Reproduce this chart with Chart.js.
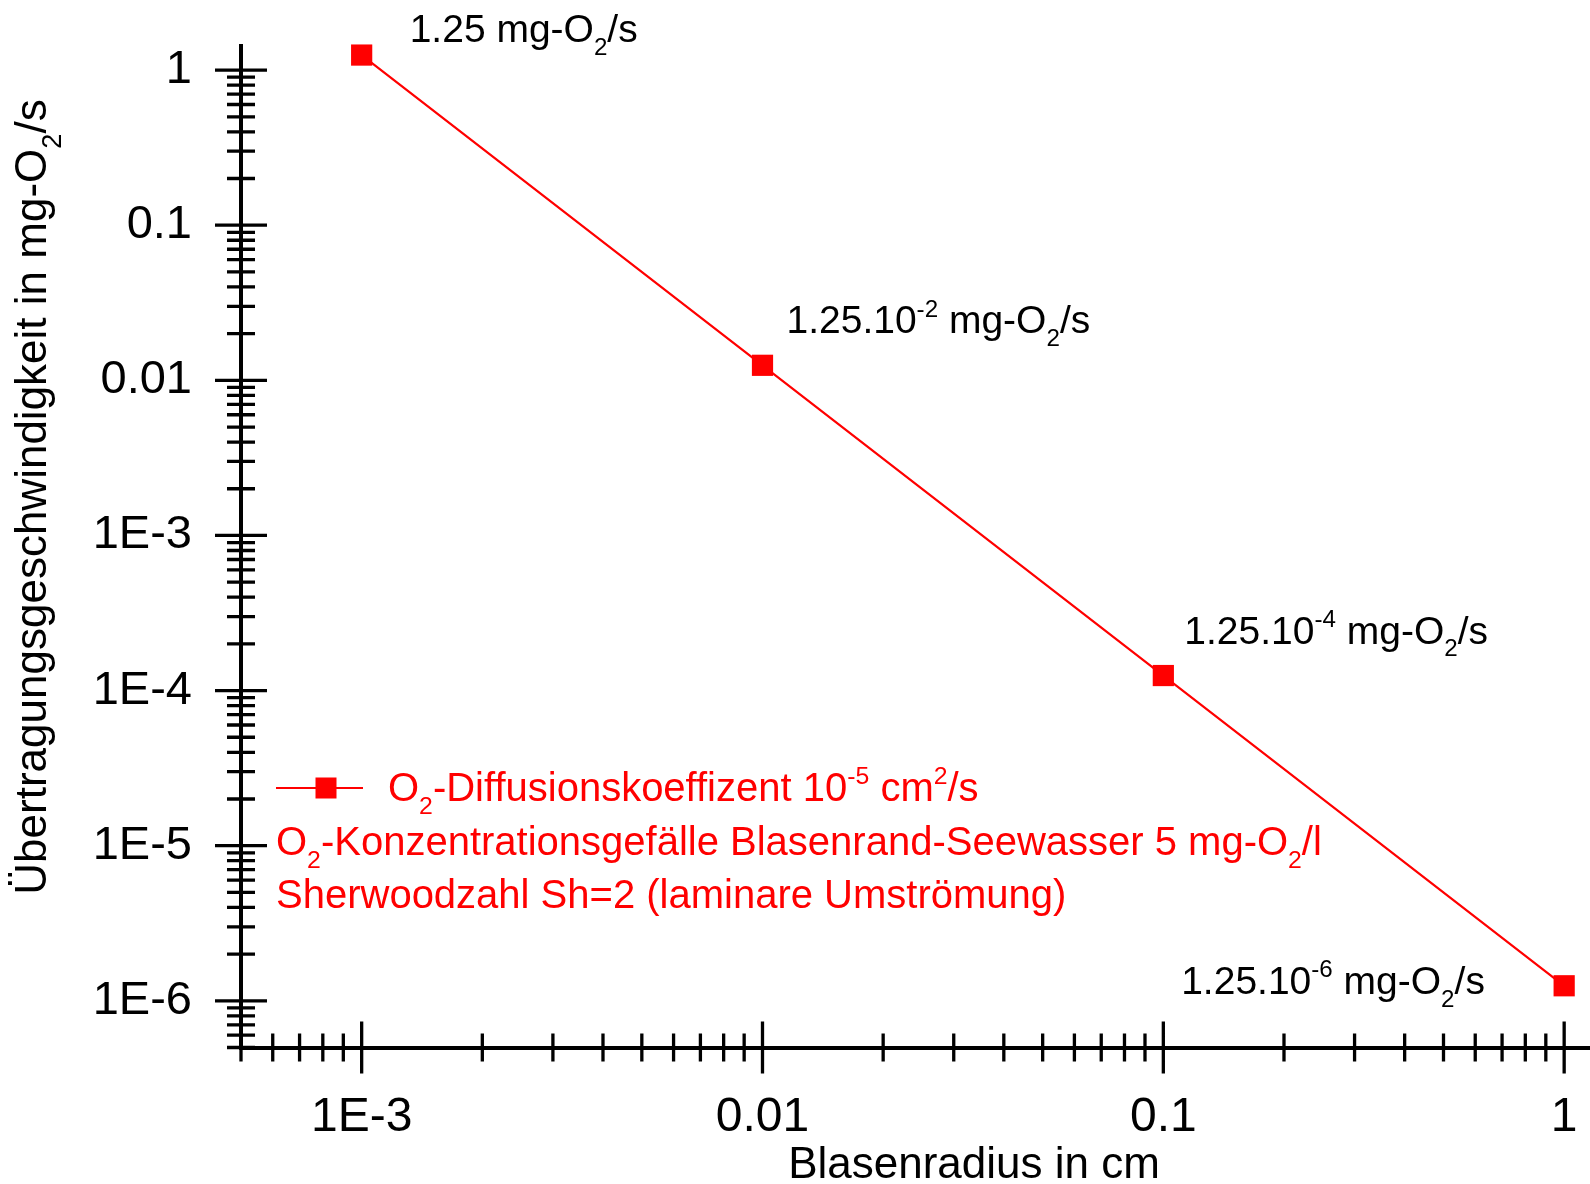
<!DOCTYPE html>
<html>
<head>
<meta charset="utf-8">
<script src="https://cdn.jsdelivr.net/npm/chart.js@4.4.1/dist/chart.umd.min.js"></script>
<style>
  html, body { margin: 0; padding: 0; background: #fff; overflow: hidden; }
  canvas { display: block; }
</style>
</head>
<body>
<canvas id="chart" width="1590" height="1184"></canvas>
<script>
// data
const radiusCm = [0.001, 0.01, 0.1, 1];
const rateMgO2s = [1.25, 0.0125, 1.25e-4, 1.25e-6];
const pointLabels = [
  "1.25 mg-O_{2}/s",
  "1.25.10^{-2} mg-O_{2}/s",
  "1.25.10^{-4} mg-O_{2}/s",
  "1.25.10^{-6} mg-O_{2}/s",
];
const legendLines = [
  "O_{2}-Diffusionskoeffizent 10^{-5} cm^{2}/s",
  "O_{2}-Konzentrationsgefälle Blasenrand-Seewasser 5 mg-O_{2}/l",
  "Sherwoodzahl Sh=2 (laminare Umströmung)",
];
const xMajorTicks = [0.001, 0.01, 0.1, 1];
const xTickLabels = ["1E-3", "0.01", "0.1", "1"];
const yMajorTicks = [1, 0.1, 0.01, 1e-3, 1e-4, 1e-5, 1e-6];
const yTickLabels = ["1", "0.1", "0.01", "1E-3", "1E-4", "1E-5", "1E-6"];
const xTitle = "Blasenradius in cm";
const yTitle = "Übertragungsgeschwindigkeit in mg-O_{2}/s";

const RED = "#ff0000";
const FONT = '"Liberation Sans", Arial, sans-serif';

// label placement (pixel offset of text start/baseline from its point)
const labelOffsets = [[48, -13], [24, -32], [21, -32], [-383, 8]];

function logTicks(min, max, majors) {
  const out = [];
  const lo = Math.floor(Math.log10(min));
  const hi = Math.ceil(Math.log10(max));
  for (let e = lo; e <= hi; e++) {
    for (let m = 1; m <= 9; m++) {
      const v = m * Math.pow(10, e);
      if (v < min * 0.999 || v > max * 1.001) continue;
      const major = majors.some((t) => Math.abs(Math.log10(t) - Math.log10(v)) < 1e-6);
      out.push({ value: v, major: major });
    }
  }
  return out;
}

function labelFor(value, majors, labels) {
  const i = majors.findIndex((t) => Math.abs(Math.log10(t) - Math.log10(value)) < 1e-6);
  return i >= 0 ? labels[i] : "";
}

function parseRich(str) {
  const parts = [];
  const re = /(\^\{[^}]*\}|_\{[^}]*\})/g;
  let last = 0, m;
  while ((m = re.exec(str))) {
    if (m.index > last) parts.push({ t: str.slice(last, m.index), mode: "" });
    parts.push({ t: m[0].slice(2, -1), mode: m[0][0] === "^" ? "sup" : "sub" });
    last = m.index + m[0].length;
  }
  if (last < str.length) parts.push({ t: str.slice(last), mode: "" });
  return parts;
}

function richWidth(ctx, str, size) {
  let w = 0;
  parseRich(str).forEach((p) => {
    ctx.font = (p.mode ? size * 0.62 : size) + "px " + FONT;
    w += ctx.measureText(p.t).width;
  });
  return w;
}

function drawRich(ctx, str, x, y, size, color, align) {
  if (align === "center") x -= richWidth(ctx, str, size) / 2;
  ctx.fillStyle = color;
  ctx.textBaseline = "alphabetic";
  ctx.textAlign = "left";
  parseRich(str).forEach((p) => {
    const s = p.mode ? size * 0.62 : size;
    const dy = p.mode === "sup" ? -0.42 * size : p.mode === "sub" ? 0.33 * size : 0;
    ctx.font = s + "px " + FONT;
    ctx.fillText(p.t, x, y + dy);
    x += ctx.measureText(p.t).width;
  });
}

// ticks crossing the axis lines, longer for decades
const crossTicks = {
  id: "crossTicks",
  afterDraw(chart) {
    const ctx = chart.ctx;
    const xs = chart.scales.x, ys = chart.scales.y;
    const ax = chart.chartArea.left, ay = chart.chartArea.bottom;
    ctx.save();
    ctx.strokeStyle = "#000";
    ctx.lineWidth = 3.3;
    ctx.beginPath();
    xs.ticks.forEach((t) => {
      const px = xs.getPixelForValue(t.value);
      const len = t.major ? 26 : 14;
      ctx.moveTo(px, ay - len);
      ctx.lineTo(px, ay + len);
    });
    ys.ticks.forEach((t) => {
      const py = ys.getPixelForValue(t.value);
      const len = t.major ? 26 : 14;
      ctx.moveTo(ax - len, py);
      ctx.lineTo(ax + len, py);
    });
    ctx.stroke();
    ctx.restore();
  },
};

const annotations = {
  id: "annotations",
  afterDraw(chart) {
    const ctx = chart.ctx;
    const meta = chart.getDatasetMeta(0);
    ctx.save();
    // point labels
    meta.data.forEach((pt, i) => {
      drawRich(ctx, pointLabels[i], pt.x + labelOffsets[i][0], pt.y + labelOffsets[i][1], 39, "#000");
    });
    // legend
    ctx.strokeStyle = RED;
    ctx.lineWidth = 2;
    ctx.beginPath();
    ctx.moveTo(276, 788);
    ctx.lineTo(363, 788);
    ctx.stroke();
    ctx.fillStyle = RED;
    ctx.fillRect(315.5, 777.5, 21, 21);
    drawRich(ctx, legendLines[0], 388, 801, 40, RED);
    drawRich(ctx, legendLines[1], 276, 855, 40, RED);
    drawRich(ctx, legendLines[2], 276, 908, 40, RED);
    // axis titles
    drawRich(ctx, xTitle, 974, 1178, 44, "#000", "center");
    ctx.translate(46, 497);
    ctx.rotate(-Math.PI / 2);
    drawRich(ctx, yTitle, 0, 0, 44, "#000", "center");
    ctx.restore();
  },
};

const X_MIN = 5e-4, X_MAX = 1.16;
const Y_MIN = 5e-7, Y_MAX = 1.43;

function noPad(s) {
  s.paddingTop = 0;
  s.paddingBottom = 0;
  s.paddingLeft = 0;
  s.paddingRight = 0;
}

new Chart(document.getElementById("chart"), {
  type: "line",
  data: {
    datasets: [{
      label: legendLines[0],
      data: radiusCm.map((r, i) => ({ x: r, y: rateMgO2s[i] })),
      borderColor: RED,
      backgroundColor: RED,
      borderWidth: 2.2,
      pointStyle: "rect",
      pointRadius: 15,
      pointBorderWidth: 0,
      tension: 0,
      clip: false,
    }],
  },
  options: {
    responsive: false,
    animation: false,
    devicePixelRatio: 1,
    layout: { autoPadding: false, padding: { top: 46, right: 0, left: 0, bottom: 0 } },
    plugins: { legend: { display: false }, tooltip: { enabled: false } },
    scales: {
      x: {
        type: "logarithmic",
        min: X_MIN,
        max: X_MAX,
        grid: { display: false },
        border: { display: true, color: "#000", width: 4 },
        afterBuildTicks: (s) => { s.ticks = logTicks(X_MIN, X_MAX, xMajorTicks); },
        afterFit: (s) => { s.height = 136.5; noPad(s); },
        ticks: {
          autoSkip: false,
          maxRotation: 0,
          padding: 33,
          color: "#000",
          font: { family: FONT, size: 48 },
          callback: (v) => labelFor(v, xMajorTicks, xTickLabels),
        },
      },
      y: {
        type: "logarithmic",
        min: Y_MIN,
        max: Y_MAX,
        grid: { display: false },
        border: { display: true, color: "#000", width: 4 },
        afterBuildTicks: (s) => { s.ticks = logTicks(Y_MIN, Y_MAX, yMajorTicks); },
        afterFit: (s) => { s.width = 241; noPad(s); },
        ticks: {
          autoSkip: false,
          padding: 41,
          color: "#000",
          font: { family: FONT, size: 47 },
          callback: (v) => labelFor(v, yMajorTicks, yTickLabels),
        },
      },
    },
  },
  plugins: [crossTicks, annotations],
});
</script>
</body>
</html>
